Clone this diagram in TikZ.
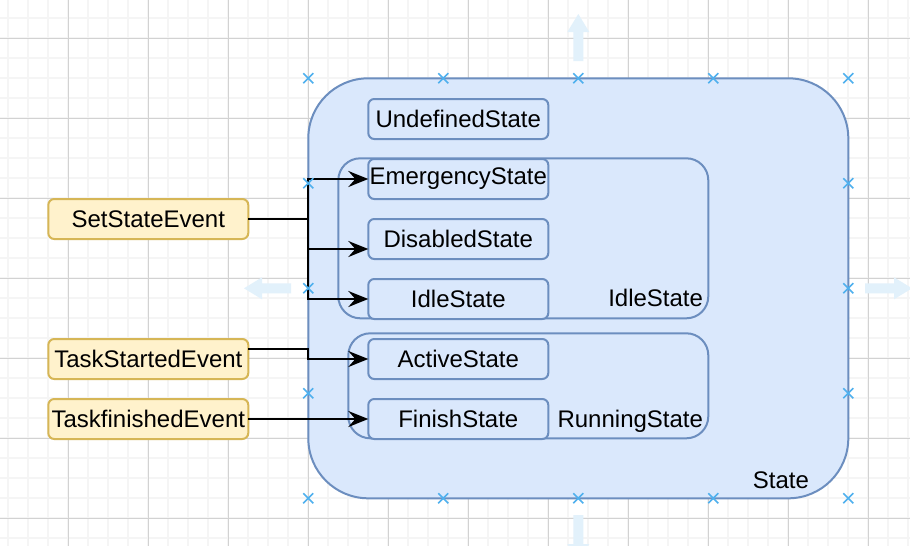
\documentclass[tikz,border=0pt]{standalone}
\usepackage{fontspec}
\setmainfont{Liberation Sans}
\usetikzlibrary{arrows.meta, positioning}

\definecolor{stfill}{HTML}{DAE8FC}
\definecolor{stline}{HTML}{6C8EBF}
\definecolor{evfill}{HTML}{FFF2CC}
\definecolor{evline}{HTML}{D6B656}
\definecolor{handle}{HTML}{4FB0EE}
\definecolor{hint}{HTML}{E2F1FB}

\begin{document}
\begin{tikzpicture}[
    x=0.5pt, y=-0.5pt,
    font=\fontsize{12}{14}\selectfont,
    every node/.style={outer sep=0pt},
    node distance=10pt and 60pt,
    state/.style={draw=stline, fill=stfill, line width=1pt, rounded corners=3pt, minimum width=90pt, minimum height=20pt, inner sep=0pt},
    event/.style={draw=evline, fill=evfill, line width=1pt, rounded corners=3pt, minimum width=100pt, minimum height=20pt, inner sep=0pt},
    group/.style={draw=stline, fill=stfill, line width=1pt, rounded corners=11pt, inner sep=0pt},
    tag/.style={anchor=base east, inner sep=0pt},
    wire/.style={line width=1pt, -{Stealth[length=10pt, width=8pt, inset=3.5pt]}},
    xmark/.style={handle, line width=0.8pt},
    hintarr/.style={fill=hint, draw=none}
  ]
  \useasboundingbox (0,0) rectangle (910,546);
  \fill[white] (0,0) rectangle (910,546);
  \clip (0,0) rectangle (910,546);

  % grid
  \foreach \gx in {0,...,45} \draw[gray!8, line width=1pt] ({8.33+20*\gx},0) -- ++(0,546);
  \foreach \gy in {0,...,27} \draw[gray!8, line width=1pt] (0,{18.33+20*\gy}) -- ++(910,0);
  \foreach \gx in {0,...,11} \draw[gray!35, line width=0.5pt] ({68.33+80*\gx},0) -- ++(0,546);
  \foreach \gy in {0,...,6} \draw[gray!35, line width=0.5pt] (0,{38.33+80*\gy}) -- ++(910,0);

  % resize hints
  \fill[hintarr] (244,288.3) -- (262,277.3) -- (262,283.3) -- (291,283.3) -- (291,293.3) -- (262,293.3) -- (262,299.3) -- cycle;
  \fill[hintarr] (912,288.3) -- (894,277.3) -- (894,283.3) -- (865,283.3) -- (865,293.3) -- (894,293.3) -- (894,299.3) -- cycle;
  \fill[hintarr] (578.3,14) -- (567.3,32) -- (573.3,32) -- (573.3,61) -- (583.3,61) -- (583.3,32) -- (589.3,32) -- cycle;
  \fill[hintarr] (578.3,562) -- (567.3,544) -- (573.3,544) -- (573.3,515) -- (583.3,515) -- (583.3,544) -- (589.3,544) -- cycle;

  % containers
  \node[group, minimum width=270pt, minimum height=210pt, rounded corners=30pt] (stategrp) at (578.3,288.3) {};
  \node[tag] (statelbl) at (809,488) {State};
  \node[group, minimum width=185pt, minimum height=80pt] (idlegrp) at (523.3,238.3) {};
  \node[tag] (idlelbl) at (703,306) {IdleState};
  \node[group, minimum width=180pt, minimum height=52.5pt] (rungrp) at (528.3,385.8) {};
  \node[tag] (runlbl) at (703,427) {RunningState};

  % states
  \node[state] (undef) at (458.3,119) {UndefinedState};
  \node[state, below=of undef] (emerg) {EmergencyState};
  \node[state, below=of emerg] (disab) {DisabledState};
  \node[state, below=of disab] (idle) {IdleState};
  \node[state, below=of idle] (active) {ActiveState};
  \node[state, below=of active] (finish) {FinishState};

  % events
  \node[event] (setev) at (148.3,219) {SetStateEvent};
  \node[event, left=of active] (startev) {TaskStartedEvent};
  \node[event, left=of finish] (finev) {TaskfinishedEvent};

  \draw[wire] (setev.east) -- ++(60,0) |- (emerg.west);
  \draw[wire] (setev.east) -- ++(60,0) |- ([yshift=-5pt]disab.west);
  \draw[wire] (setev.east) -- ++(60,0) |- (idle.west);
  \draw[wire] ([yshift=5pt]startev.east) -- ++(60,0) |- (active.west);
  \draw[wire] (finev) -- (finish);

  % selection handles
  \foreach \hx/\hy in {308.3/78.3, 443.3/78.3, 578.3/78.3, 713.3/78.3, 848.3/78.3,
      308.3/183.3, 848.3/183.3, 308.3/288.3, 848.3/288.3, 308.3/393.3, 848.3/393.3,
      308.3/498.3, 443.3/498.3, 578.3/498.3, 713.3/498.3, 848.3/498.3}
    \draw[xmark] ({\hx-5},{\hy-5}) -- ({\hx+5},{\hy+5}) ({\hx-5},{\hy+5}) -- ({\hx+5},{\hy-5});
\end{tikzpicture}
\end{document}
